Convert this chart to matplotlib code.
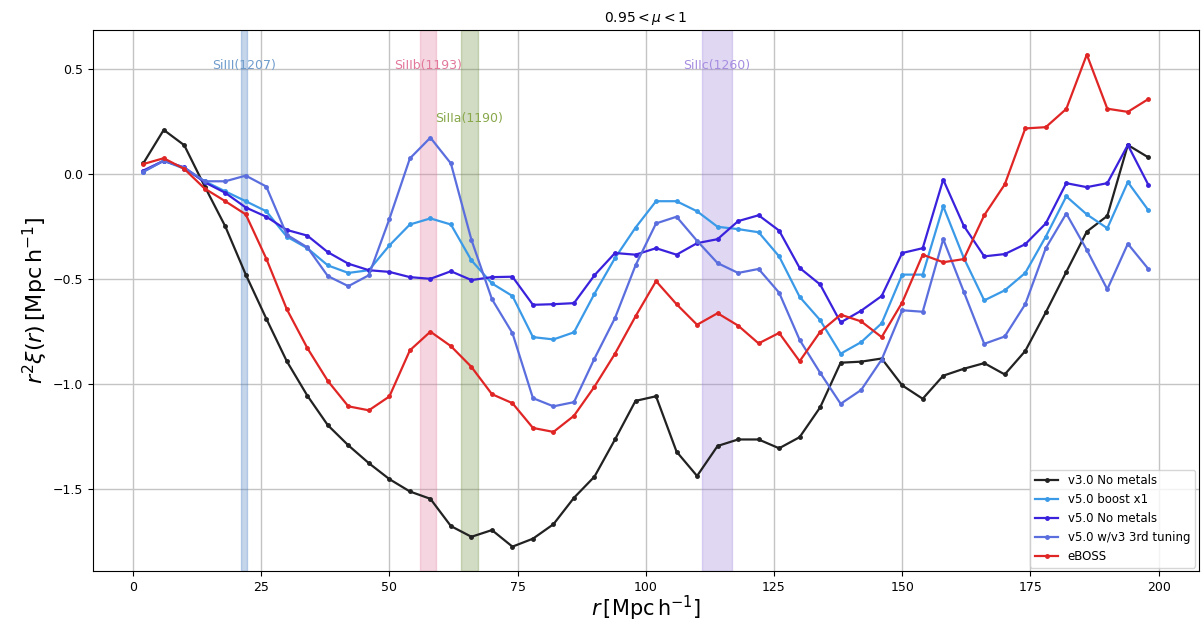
import numpy as np
import matplotlib
matplotlib.use('Agg')
import matplotlib.pyplot as plt

r = np.arange(2, 200, 4)

v3_no_metals = [0.05, 0.21, 0.137, -0.06, -0.25, -0.48, -0.69, -0.893, -1.057, -1.198,
                -1.294, -1.379, -1.455, -1.514, -1.549, -1.679, -1.73, -1.698, -1.777, -1.739,
                -1.67, -1.544, -1.443, -1.266, -1.082, -1.06, -1.324, -1.44, -1.297, -1.266,
                -1.266, -1.308, -1.255, -1.113, -0.9, -0.895, -0.88, -1.008, -1.072, -0.962,
                -0.929, -0.902, -0.956, -0.844, -0.66, -0.467, -0.275, -0.2, 0.138, 0.079]
v5_boost = [0.01, 0.063, 0.025, -0.035, -0.083, -0.13, -0.178, -0.299, -0.354, -0.436,
            -0.472, -0.459, -0.341, -0.241, -0.212, -0.241, -0.412, -0.522, -0.582, -0.778,
            -0.789, -0.755, -0.571, -0.401, -0.256, -0.13, -0.13, -0.178, -0.252, -0.263,
            -0.278, -0.393, -0.586, -0.697, -0.857, -0.802, -0.712, -0.48, -0.48, -0.154,
            -0.4, -0.603, -0.555, -0.472, -0.299, -0.107, -0.193, -0.259, -0.039, -0.173]
v5_no_metals = [0.016, 0.063, 0.031, -0.04, -0.09, -0.16, -0.204, -0.267, -0.294, -0.373,
                -0.428, -0.459, -0.467, -0.492, -0.5, -0.464, -0.506, -0.492, -0.49, -0.624,
                -0.621, -0.616, -0.483, -0.377, -0.385, -0.354, -0.385, -0.33, -0.311, -0.225,
                -0.197, -0.27, -0.448, -0.527, -0.708, -0.652, -0.582, -0.377, -0.354, -0.027,
                -0.247, -0.393, -0.382, -0.335, -0.236, -0.044, -0.063, -0.044, 0.138, -0.052]
v5_3rd_tuning = [0.01, 0.063, 0.03, -0.035, -0.035, -0.008, -0.06, -0.29, -0.35, -0.487,
                 -0.535, -0.483, -0.215, 0.074, 0.173, 0.05, -0.314, -0.597, -0.759, -1.069,
                 -1.108, -1.088, -0.88, -0.687, -0.436, -0.236, -0.204, -0.319, -0.425, -0.472,
                 -0.453, -0.566, -0.791, -0.948, -1.096, -1.03, -0.885, -0.65, -0.657, -0.311,
                 -0.561, -0.81, -0.775, -0.621, -0.354, -0.189, -0.362, -0.55, -0.333, -0.453]
eboss = [0.047, 0.075, 0.024, -0.07, -0.13, -0.193, -0.404, -0.645, -0.83, -0.987,
         -1.108, -1.127, -1.061, -0.841, -0.752, -0.821, -0.92, -1.05, -1.093, -1.211,
         -1.23, -1.153, -1.014, -0.857, -0.679, -0.511, -0.621, -0.719, -0.664, -0.723,
         -0.808, -0.758, -0.893, -0.753, -0.671, -0.703, -0.778, -0.613, -0.385, -0.421,
         -0.406, -0.197, -0.05, 0.217, 0.223, 0.31, 0.569, 0.311, 0.296, 0.357]

# metal lines: name, r range, label y
metal_names = ['SiIII(1207)', 'SiIIb(1193)', 'SiIIa(1190)', 'SiIIc(1260)']
metal_lo = [21.0, 55.9, 63.9, 111.0]
metal_hi = [22.2, 59.0, 67.3, 116.8]
metal_label_y = [0.515, 0.515, 0.265, 0.515]
metal_colors = ['#3f78c0', '#e07a9a', '#6b8a3a', '#9a80d8']
metal_text_colors = ['#6f9ccc', '#e2789a', '#88a84a', '#a68ce0']

fig = plt.figure(figsize=(12.01, 6.25), dpi=100)
ax = fig.add_axes([0.0774, 0.086, 0.9206, 0.866])

ax.plot(r, v3_no_metals, '.-', color='#222222', lw=1.6, ms=5, label='v3.0 No metals')
ax.plot(r, v5_boost, '.-', color='#3a9ae8', lw=1.6, ms=5, label='v5.0 boost x1')
ax.plot(r, v5_no_metals, '.-', color='#3a22dd', lw=1.6, ms=5, label='v5.0 No metals')
ax.plot(r, v5_3rd_tuning, '.-', color='#5b6ede', lw=1.6, ms=5, label='v5.0 w/v3 3rd tuning')
ax.plot(r, eboss, '.-', color='#e02525', lw=1.6, ms=5, label='eBOSS')

for name, lo, hi, yl, c, tc in zip(metal_names, metal_lo, metal_hi, metal_label_y,
                                    metal_colors, metal_text_colors):
    ax.axvspan(lo, hi, color=c, alpha=0.3, lw=1)
    ax.text((lo + hi) / 2, yl, name, color=tc, fontsize=9, ha='center', va='center')

ax.set_xticks([0, 25, 50, 75, 100, 125, 150, 175, 200])
ax.set_yticks([-1.5, -1.0, -0.5, 0.0, 0.5])
ax.tick_params(labelsize=9)
ax.grid(True, color='#c4c4c4', lw=1)
ax.set_axisbelow(True)
ax.set_title(r'$0.95 < \mu < 1$', fontsize=10)
ax.set_xlabel(r'$r\,[\mathrm{Mpc\,h^{-1}}]$', fontsize=15, labelpad=0)
ax.set_ylabel(r'$r^2\xi(r)\,[\mathrm{Mpc\,h^{-1}}]$', fontsize=16, labelpad=2)
ax.legend(loc='lower right', fontsize=8.5, borderaxespad=0.3)

plt.savefig('out.png', dpi=100)
